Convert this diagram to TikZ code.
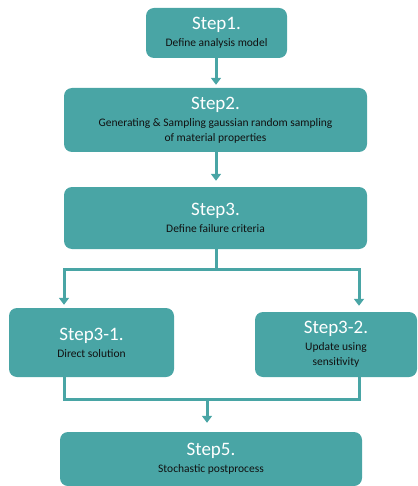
\documentclass[tikz,border=0pt]{standalone}
\usepackage{fontspec}
\setmainfont{Carlito}
\usetikzlibrary{arrows.meta,calc}
\definecolor{teal1}{HTML}{49A5A5}
\definecolor{subtxt}{HTML}{111111}
\tikzset{
  box/.style={fill=teal1, rounded corners=8pt, align=center, inner sep=0pt,
              font=\fontsize{11.5}{15}\selectfont, text=subtxt},
  conn/.style={draw=teal1, line width=3pt},
  arr/.style={conn, -{Triangle[width=10pt,length=7pt]}},
}
\newcommand{\ttl}[1]{{\fontsize{19}{19}\selectfont\color{white}#1}\\[2pt]}
\begin{document}
\begin{tikzpicture}[x=1pt,y=-1pt]
\useasboundingbox (0,0) rectangle (417,486);
\node[box, minimum width=141pt, minimum height=50pt] (s1) at (216.5,33) {\ttl{Step1.}Define analysis model};
\node[box, minimum width=303pt, minimum height=64pt] (s2) at (215.5,120) {\ttl{Step2.}Generating \& Sampling gaussian random sampling\\of material properties};
\node[box, minimum width=303pt, minimum height=62pt] (s3) at (215.5,218) {\ttl{Step3.}Define failure criteria};
\node[box, minimum width=165pt, minimum height=69pt] (s31) at (91.5,342.5) {\ttl{Step3-1.}Direct solution};
\node[box, minimum width=162pt, minimum height=65pt] (s32) at (336,344.5) {\ttl{Step3-2.}Update using\\sensitivity};
\node[box, minimum width=302pt, minimum height=54pt] (s5) at (211,459) {\ttl{Step5.}Stochastic postprocess};
\coordinate (j1) at (216,269);
\coordinate (jl) at (64,269);
\coordinate (jr) at (359,269);
\coordinate (bl) at (64,399);
\coordinate (br) at (359,399);
\coordinate (bm) at (207,399);
\draw[arr, shorten >=3pt] (s1.south -| j1) -- (s2.north -| j1);
\draw[arr, shorten >=6pt] (s2.south -| j1) -- (s3.north -| j1);
\draw[conn] (s3.south -| j1) -- (j1);
\draw[conn, line cap=rect] (jl) -- (jr);
\draw[arr, shorten >=3pt] (jl) -- (jl |- s31.north);
\draw[arr, shorten >=6pt] (jr) -- (jr |- s32.north);
\draw[conn, line cap=rect] (s31.south -| bl) -- (bl) -- (br) -- (s32.south -| br);
\draw[arr, shorten >=9pt] (bm) -- (bm |- s5.north);
\end{tikzpicture}
\end{document}
